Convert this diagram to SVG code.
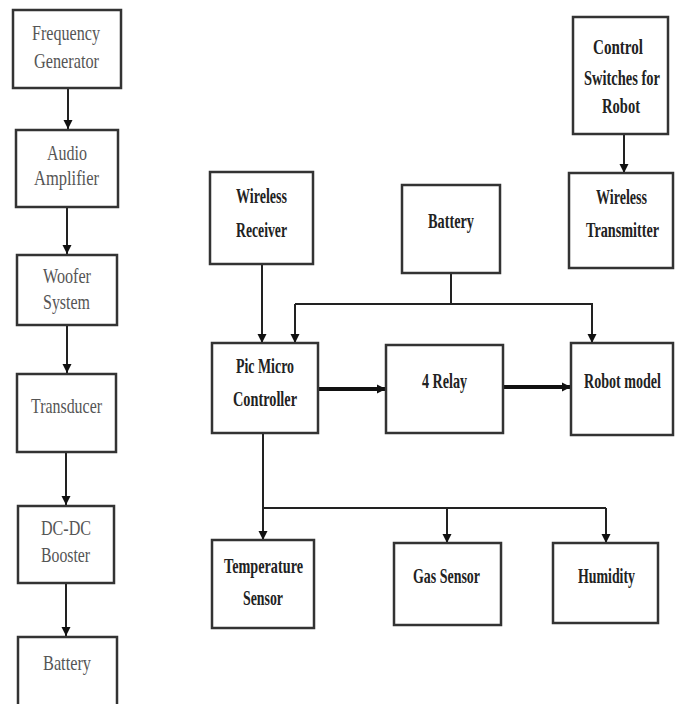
<svg xmlns="http://www.w3.org/2000/svg" width="678" height="704" viewBox="0 0 678 704">
<defs>
<style>
.box{fill:#fff;stroke:#333;stroke-width:2.5}
.l{font-family:"Liberation Serif","Times New Roman",serif;font-size:21px;fill:#555;text-anchor:middle}
.r{font-family:"Liberation Serif","Times New Roman",serif;font-size:21px;font-weight:bold;fill:#222;text-anchor:middle}
.c{fill:none;stroke:#222;stroke-width:2}
.t{fill:none;stroke:#111;stroke-width:4}
</style>
<marker id="a" viewBox="0 0 10 10" refX="10" refY="5" markerWidth="9" markerHeight="10" markerUnits="userSpaceOnUse" orient="auto"><path d="M0,0 L10,5 L0,10 z" fill="#111"/></marker>
</defs>
<rect width="678" height="704" fill="#fff"/>
<g id="connectors">
<line class="c" x1="68" y1="88" x2="68" y2="129" marker-end="url(#a)"/>
<line class="c" x1="67" y1="207" x2="67" y2="254" marker-end="url(#a)"/>
<line class="c" x1="67" y1="325" x2="67" y2="373" marker-end="url(#a)"/>
<line class="c" x1="66" y1="452" x2="66" y2="505" marker-end="url(#a)"/>
<line class="c" x1="66" y1="583" x2="66" y2="636" marker-end="url(#a)"/>
<line class="c" x1="624" y1="134" x2="624" y2="173" marker-end="url(#a)"/>
<line class="c" x1="262" y1="264" x2="262" y2="343" marker-end="url(#a)"/>
<line class="c" x1="451" y1="273" x2="451" y2="304"/>
<polyline class="c" points="295,304 592,304 592,343" marker-end="url(#a)"/>
<line class="c" x1="295" y1="304" x2="295" y2="343" marker-end="url(#a)"/>
<line class="t" x1="318" y1="389" x2="386" y2="389" marker-end="url(#a)"/>
<line class="t" x1="503" y1="387" x2="571" y2="387" marker-end="url(#a)"/>
<polyline class="c" points="263,433 263,508 606,508"/>
<line class="c" x1="263" y1="508" x2="263" y2="540" marker-end="url(#a)"/>
<line class="c" x1="447" y1="508" x2="447" y2="543" marker-end="url(#a)"/>
<line class="c" x1="606" y1="508" x2="606" y2="543" marker-end="url(#a)"/>
</g>
<g id="freq"><rect class="box" x="13" y="10" width="108" height="78"/>
<text class="l" x="66" y="40" textLength="68" lengthAdjust="spacingAndGlyphs">Frequency</text>
<text class="l" x="66.5" y="68" textLength="65" lengthAdjust="spacingAndGlyphs">Generator</text></g>
<g id="audio"><rect class="box" x="16" y="130" width="102" height="77"/>
<text class="l" x="67" y="160" textLength="40" lengthAdjust="spacingAndGlyphs">Audio</text>
<text class="l" x="66.5" y="185" textLength="65" lengthAdjust="spacingAndGlyphs">Amplifier</text></g>
<g id="woofer"><rect class="box" x="17" y="255" width="100" height="70"/>
<text class="l" x="67" y="283" textLength="48" lengthAdjust="spacingAndGlyphs">Woofer</text>
<text class="l" x="66.5" y="309" textLength="47" lengthAdjust="spacingAndGlyphs">System</text></g>
<g id="transducer"><rect class="box" x="17" y="374" width="99" height="78"/>
<text class="l" x="66.5" y="413" textLength="71" lengthAdjust="spacingAndGlyphs">Transducer</text></g>
<g id="dcdc"><rect class="box" x="18" y="506" width="96" height="77"/>
<text class="l" x="66" y="535" textLength="50" lengthAdjust="spacingAndGlyphs">DC-DC</text>
<text class="l" x="65.5" y="562" textLength="49" lengthAdjust="spacingAndGlyphs">Booster</text></g>
<g id="battery-left"><rect class="box" x="18" y="637" width="99" height="72"/>
<text class="l" x="67" y="670" textLength="48" lengthAdjust="spacingAndGlyphs">Battery</text></g>
<g id="control"><rect class="box" x="573" y="17" width="95" height="117"/>
<text class="r" transform="translate(618,54) scale(0.7,1)" x="0" y="0" textLength="71.4" lengthAdjust="spacingAndGlyphs">Control</text>
<text class="r" transform="translate(622,85) scale(0.7,1)" x="0" y="0" textLength="108.6" lengthAdjust="spacingAndGlyphs">Switches for</text>
<text class="r" transform="translate(621,113) scale(0.7,1)" x="0" y="0" textLength="54.3" lengthAdjust="spacingAndGlyphs">Robot</text></g>
<g id="transmitter"><rect class="box" x="569" y="173" width="104" height="95"/>
<text class="r" transform="translate(621.5,204) scale(0.7,1)" x="0" y="0" textLength="72.9" lengthAdjust="spacingAndGlyphs">Wireless</text>
<text class="r" transform="translate(622.5,237) scale(0.7,1)" x="0" y="0" textLength="104.3" lengthAdjust="spacingAndGlyphs">Transmitter</text></g>
<g id="receiver"><rect class="box" x="210" y="172" width="103" height="92"/>
<text class="r" x="261.5" y="203" textLength="51" lengthAdjust="spacingAndGlyphs">Wireless</text>
<text class="r" x="261.5" y="237" textLength="51" lengthAdjust="spacingAndGlyphs">Receiver</text></g>
<g id="battery-right"><rect class="box" x="402" y="185" width="98" height="88"/>
<text class="r" x="451" y="228" textLength="46" lengthAdjust="spacingAndGlyphs">Battery</text></g>
<g id="pic"><rect class="box" x="212" y="343" width="106" height="90"/>
<text class="r" x="265" y="373" textLength="58" lengthAdjust="spacingAndGlyphs">Pic Micro</text>
<text class="r" x="265" y="406" textLength="64" lengthAdjust="spacingAndGlyphs">Controller</text></g>
<g id="relay"><rect class="box" x="386" y="345" width="117" height="88"/>
<text class="r" x="444.5" y="388" textLength="45" lengthAdjust="spacingAndGlyphs">4 Relay</text></g>
<g id="robot"><rect class="box" x="571" y="343" width="102" height="92"/>
<text class="r" transform="translate(622.5,388) scale(0.7,1)" x="0" y="0" textLength="110" lengthAdjust="spacingAndGlyphs">Robot model</text></g>
<g id="temp"><rect class="box" x="212" y="540" width="102" height="88"/>
<text class="r" x="263.5" y="573" textLength="79" lengthAdjust="spacingAndGlyphs">Temperature</text>
<text class="r" x="263" y="605" textLength="40" lengthAdjust="spacingAndGlyphs">Sensor</text></g>
<g id="gas"><rect class="box" x="394" y="543" width="107" height="82"/>
<text class="r" x="446.5" y="583" textLength="67" lengthAdjust="spacingAndGlyphs">Gas Sensor</text></g>
<g id="humidity"><rect class="box" x="553" y="543" width="105" height="80"/>
<text class="r" x="606.5" y="583" textLength="57" lengthAdjust="spacingAndGlyphs">Humidity</text></g>
</svg>
